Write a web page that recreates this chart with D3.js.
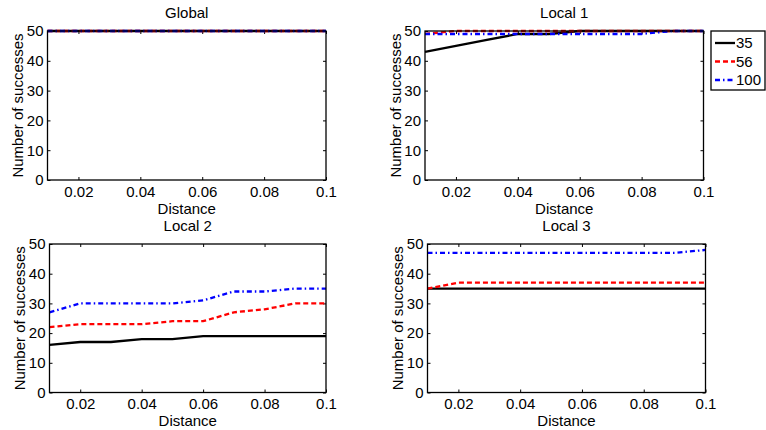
<!DOCTYPE html>
<html>
<head>
<meta charset="utf-8">
<script src="https://cdn.jsdelivr.net/npm/d3@7"></script>
<style>
  html, body { margin: 0; padding: 0; background: #fff; }
  svg { display: block; }
  text { font-family: "Liberation Sans", Arial, sans-serif; fill: #000; }
</style>
</head>
<body>
<svg id="chart" width="766" height="430"></svg>
<script>
// Data
const distances = [0.01, 0.02, 0.03, 0.04, 0.05, 0.06, 0.07, 0.08, 0.09, 0.1];
const seriesNames = ["35", "56", "100"];
const panelTitles = ["Global", "Local 1", "Local 2", "Local 3"];
const xTickValues = [0.02, 0.04, 0.06, 0.08, 0.1];
const xTickLabels = ["0.02", "0.04", "0.06", "0.08", "0.1"];
const yTickValues = [0, 10, 20, 30, 40, 50];

const global35  = [50, 50, 50, 50, 50, 50, 50, 50, 50, 50];
const global56  = [50, 50, 50, 50, 50, 50, 50, 50, 50, 50];
const global100 = [50, 50, 50, 50, 50, 50, 50, 50, 50, 50];

const local1_35  = [43, 45, 47, 49, 49, 50, 50, 50, 50, 50];
const local1_56  = [49, 50, 50, 50, 50, 50, 50, 50, 50, 50];
const local1_100 = [49, 49, 49, 49, 49, 49, 49, 49, 50, 50];

const local2_35  = [16, 17, 17, 18, 18, 19, 19, 19, 19, 19];
const local2_56  = [22, 23, 23, 23, 24, 24, 27, 28, 30, 30];
const local2_100 = [27, 30, 30, 30, 30, 31, 34, 34, 35, 35];

const local3_35  = [35, 35, 35, 35, 35, 35, 35, 35, 35, 35];
const local3_56  = [35, 37, 37, 37, 37, 37, 37, 37, 37, 37];
const local3_100 = [47, 47, 47, 47, 47, 47, 47, 47, 47, 48];

const panelSeries = [
  [global35, global56, global100],
  [local1_35, local1_56, local1_100],
  [local2_35, local2_56, local2_100],
  [local3_35, local3_56, local3_100]
];

// Styles
const lineStyles = [
  { color: "#000000", dash: null },
  { color: "#ff0000", dash: "5,3" },
  { color: "#0000ff", dash: "5,3,1.5,3" }
];

// axes boxes in pixels
const boxes = [
  { left: 47.5, right: 326, top: 31, bottom: 180 },
  { left: 425, right: 703.5, top: 31, bottom: 180 },
  { left: 49.5, right: 326, top: 244, bottom: 392.5 },
  { left: 427.5, right: 705.5, top: 244, bottom: 392.5 }
];

const fontSize = 15;
const svg = d3.select("#chart");

panelTitles.forEach((title, i) => {
  const b = boxes[i];
  const x = d3.scaleLinear().domain([0.01, 0.1]).range([b.left, b.right]);
  const y = d3.scaleLinear().domain([0, 50]).range([b.bottom, b.top]);
  const g = svg.append("g");

  // axes with inward ticks on all sides
  const axes = [
    { ax: d3.axisBottom(x).tickValues(xTickValues).tickFormat((d, k) => xTickLabels[k]).tickPadding(6), t: `translate(0,${b.bottom})` },
    { ax: d3.axisTop(x).tickValues(xTickValues).tickFormat(""), t: `translate(0,${b.top})` },
    { ax: d3.axisLeft(y).tickValues(yTickValues).tickFormat(d3.format("d")).tickPadding(4), t: `translate(${b.left},0)` },
    { ax: d3.axisRight(y).tickValues(yTickValues).tickFormat(""), t: `translate(${b.right},0)` }
  ];
  axes.forEach(a => {
    const ag = g.append("g")
      .attr("transform", a.t)
      .call(a.ax.tickSizeInner(-3).tickSizeOuter(0));
    ag.select(".domain").remove();
    ag.selectAll(".tick line").attr("stroke", "#000").attr("stroke-width", 1);
    ag.selectAll(".tick text")
      .attr("font-size", fontSize)
      .attr("font-family", "Liberation Sans, Arial, sans-serif")
      .attr("fill", "#000");
  });

  // series lines
  const line = d3.line().x((d, k) => x(distances[k])).y(d => y(d));
  panelSeries[i].forEach((vals, s) => {
    g.append("path")
      .datum(vals)
      .attr("d", line)
      .attr("fill", "none")
      .attr("stroke", lineStyles[s].color)
      .attr("stroke-width", 2.3)
      .attr("stroke-dasharray", lineStyles[s].dash);
  });

  // box
  g.append("rect")
    .attr("x", b.left).attr("y", b.top)
    .attr("width", b.right - b.left).attr("height", b.bottom - b.top)
    .attr("fill", "none").attr("stroke", "#000").attr("stroke-width", 1.3);

  // title
  g.append("text")
    .attr("x", (b.left + b.right) / 2)
    .attr("y", b.top - 13)
    .attr("text-anchor", "middle")
    .attr("font-size", fontSize)
    .text(title);

  // x label
  g.append("text")
    .attr("x", (b.left + b.right) / 2)
    .attr("y", b.bottom + 33.5)
    .attr("text-anchor", "middle")
    .attr("font-size", fontSize)
    .text("Distance");

  // y label
  g.append("text")
    .attr("transform", `translate(${b.left - 24.5},${(b.top + b.bottom) / 2}) rotate(-90)`)
    .attr("text-anchor", "middle")
    .attr("font-size", fontSize)
    .text("Number of successes");
});

// legend next to Local 1
const legend = svg.append("g").attr("transform", "translate(711,31)");
legend.append("rect")
  .attr("width", 54).attr("height", 59)
  .attr("fill", "#fff").attr("stroke", "#000").attr("stroke-width", 1.3);
seriesNames.forEach((name, s) => {
  const ly = 12 + s * 18.5;
  legend.append("line")
    .attr("x1", 4).attr("x2", 24).attr("y1", ly).attr("y2", ly)
    .attr("stroke", lineStyles[s].color)
    .attr("stroke-width", 2.3)
    .attr("stroke-dasharray", lineStyles[s].dash);
  legend.append("text")
    .attr("x", 25).attr("y", ly)
    .attr("dy", "0.35em")
    .attr("font-size", fontSize)
    .text(name);
});
</script>
</body>
</html>
